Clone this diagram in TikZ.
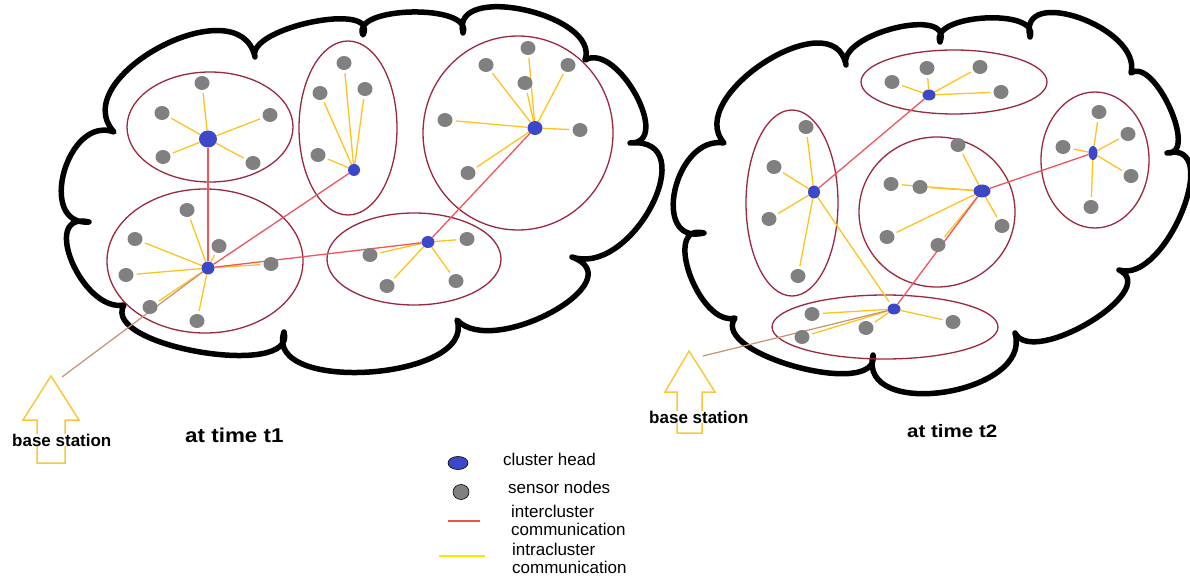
\documentclass[tikz,border=0pt]{standalone}
\usepackage{fontspec}
\setmainfont{Liberation Sans}
\usetikzlibrary{shapes.geometric,calc}
\pgfdeclarelayer{bg}
\pgfdeclarelayer{conn}
\pgfsetlayers{bg,conn,main}
\definecolor{ringc}{RGB}{155,40,60}
\definecolor{sensorc}{RGB}{128,128,128}
\definecolor{headc}{RGB}{60,72,200}
\definecolor{intrac}{RGB}{255,195,30}
\definecolor{interc}{RGB}{240,85,95}
\definecolor{basec}{RGB}{200,145,115}
\definecolor{arrowc}{RGB}{250,200,60}
\definecolor{legyel}{RGB}{255,230,0}
\definecolor{legred}{RGB}{240,80,80}
\begin{document}
\begin{tikzpicture}[x=1pt,y=-1pt,
  sensor/.style={shape=ellipse, fill=sensorc, inner sep=0pt, minimum width=15pt, minimum height=14pt},
  head/.style={shape=ellipse, fill=headc, inner sep=0pt, minimum width=13pt, minimum height=12pt},
  ring/.style={draw=ringc, line width=1.3pt},
  cloud/.style={draw=black, line width=5.5pt, line join=round},
  lobe/.style={to path={.. controls ($0.4533*(\tikztostart)+1.3333*(#1)-0.7867*(\tikztotarget)$) and ($0.4533*(\tikztotarget)+1.3333*(#1)-0.7867*(\tikztostart)$) .. (\tikztotarget)}},
  intra/.style={draw=intrac, line width=1.3pt, shorten >=3pt},
  inter/.style={draw=interc, line width=1.3pt},
  bsline/.style={draw=basec, line width=1.2pt},
  bsarrow/.style={draw=arrowc, line width=1.5pt, line join=miter},
  lab/.style={inner sep=0pt, font=\fontsize{17}{18}\selectfont},
  bslab/.style={inner sep=0pt, fill=white, font=\bfseries\fontsize{17}{18}\selectfont},
  timelab/.style={inner sep=0pt, font=\bfseries}
]
\useasboundingbox (0,0) rectangle (1190,577);

% ---------- nodes: cloud 1 ----------
\node[head, minimum width=18pt, minimum height=17pt] (A) at (208,139) {};
\node[sensor] (a1) at (202,83) {};
\node[sensor] (a2) at (162,113) {};
\node[sensor] (a3) at (270,115) {};
\node[sensor] (a4) at (163,157) {};
\node[sensor] (a5) at (253,163) {};

\node[head, minimum width=12pt, minimum height=12pt] (B) at (354,170) {};
\node[sensor] (b1) at (344,63) {};
\node[sensor] (b2) at (320,93) {};
\node[sensor] (b3) at (365,89) {};
\node[sensor] (b4) at (318,155) {};

\node[head, minimum width=15pt, minimum height=14pt] (C) at (535,128) {};
\node[sensor] (c1) at (528,48) {};
\node[sensor] (c2) at (486,65) {};
\node[sensor] (c3) at (568,65) {};
\node[sensor] (c4) at (525,83) {};
\node[sensor] (c5) at (445,120) {};
\node[sensor] (c6) at (580,130) {};
\node[sensor] (c7) at (468,173) {};

\node[head, minimum width=13pt, minimum height=13pt] (D) at (208,268) {};
\node[sensor] (d1) at (187,210) {};
\node[sensor] (d2) at (135,239) {};
\node[sensor] (d3) at (219,246) {};
\node[sensor] (d4) at (126,275) {};
\node[sensor] (d5) at (271,264) {};
\node[sensor] (d6) at (150,307) {};
\node[sensor] (d7) at (197,321) {};

\node[head] (E) at (428,242) {};
\node[sensor] (e1) at (370,255) {};
\node[sensor] (e2) at (467,239) {};
\node[sensor] (e3) at (387,286) {};
\node[sensor] (e4) at (456,281) {};

% ---------- nodes: cloud 2 ----------
\node[head, minimum height=11pt] (F) at (929,95) {};
\node[sensor] (f1) at (927,68) {};
\node[sensor] (f2) at (892,82) {};
\node[sensor] (f3) at (980,67) {};
\node[sensor] (f4) at (1001,92) {};

\node[head, minimum width=12pt, minimum height=13pt] (G) at (814,192) {};
\node[sensor] (g1) at (806,127) {};
\node[sensor] (g2) at (774,167) {};
\node[sensor] (g3) at (769,219) {};
\node[sensor] (g4) at (798,276) {};

\node[head, minimum width=17pt, minimum height=13pt] (H) at (982,191) {};
\node[sensor] (h1) at (958,145) {};
\node[sensor] (h2) at (891,184) {};
\node[sensor] (h3) at (920,187) {};
\node[sensor] (h4) at (887,237) {};
\node[sensor] (h5) at (1002,226) {};
\node[sensor] (h6) at (938,245) {};

\node[head, minimum width=9pt, minimum height=14pt] (I) at (1093,153) {};
\node[sensor] (i1) at (1099,112) {};
\node[sensor] (i2) at (1128,134) {};
\node[sensor] (i3) at (1063,147) {};
\node[sensor] (i4) at (1131,176) {};
\node[sensor] (i5) at (1091,207) {};

\node[head, minimum height=11pt] (J) at (894,309) {};
\node[sensor] (j1) at (812,314) {};
\node[sensor] (j2) at (802,337) {};
\node[sensor] (j3) at (866,328) {};
\node[sensor] (j4) at (953,322) {};

\coordinate (bs1) at (62,377);
\coordinate (bs2) at (703,356);

% ---------- background: clouds, cluster rings, arrows ----------
\begin{pgfonlayer}{bg}
\fill[white] (0,0) rectangle (1190,577);
\draw[cloud] (114,132) to[lobe={64,172}] (89,222) to[lobe={72,262}] (124,305)
  to[lobe={200,352}] (284,332) to[lobe={370,372}] (457,320)
  to[lobe={552,312}] (572,257) to[lobe={652,205}] (630,143)
  to[lobe={636,95}] (585,60) to[lobe={525,10}] (463,33)
  to[lobe={412,12}] (363,35) to[lobe={312,22}] (255,57)
  to[lobe={160,47}] (114,132) -- cycle;
\draw[cloud] (724,143) to[lobe={675,190}] (704,233) to[lobe={690,275}] (735,318)
  to[lobe={797,367}] (873,355) to[lobe={945,392}] (1015,333)
  to[lobe={1090,322}] (1119,270) to[lobe={1182,212}] (1167,153)
  to[lobe={1170,108}] (1131,73) to[lobe={1080,18}] (1030,37)
  to[lobe={985,18}] (940,42) to[lobe={895,28}] (846,65)
  to[lobe={765,62}] (724,143) -- cycle;
\draw[ring] (210,127) ellipse [x radius=83pt, y radius=55pt];
\draw[ring] (348,128) ellipse [x radius=49pt, y radius=87pt];
\draw[ring] (518,133) ellipse [x radius=95pt, y radius=97pt];
\draw[ring] (205,261) ellipse [x radius=98pt, y radius=72pt];
\draw[ring] (414,259) ellipse [x radius=87pt, y radius=46pt];
\draw[ring] (954,82) ellipse [x radius=93pt, y radius=32pt];
\draw[ring] (792,203) ellipse [x radius=46pt, y radius=93pt];
\draw[ring] (937,212) ellipse [x radius=78pt, y radius=75pt];
\draw[ring] (1095,160) ellipse [x radius=54pt, y radius=68pt];
\draw[ring] (885,327) ellipse [x radius=113pt, y radius=32pt];
\draw[bsarrow] (51,376) -- (79,420) -- (65,420) -- (65,463) -- (37,463) -- (37,420) -- (23,420) -- cycle;
\draw[bsarrow] (689,351) -- (715,392) -- (702,392) -- (702,433) -- (677,433) -- (677,392) -- (665,392) -- cycle;
\end{pgfonlayer}

% ---------- connectors ----------
\begin{pgfonlayer}{conn}
\foreach \h/\s in {A/a1,A/a2,A/a3,A/a4,A/a5,B/b1,B/b2,B/b3,B/b4,
  C/c1,C/c2,C/c3,C/c4,C/c5,C/c6,C/c7,D/d1,D/d2,D/d3,D/d4,D/d5,D/d6,D/d7,
  E/e1,E/e2,E/e3,E/e4,F/f1,F/f2,F/f3,F/f4,G/g1,G/g2,G/g3,G/g4,
  H/h1,H/h2,H/h3,H/h4,H/h5,H/h6,I/i1,I/i2,I/i3,I/i4,I/i5,
  J/j1,J/j2,J/j3,J/j4,G/J}
  \draw[intra] (\h) -- (\s);
\foreach \p/\q in {A/D,B/D,C/E,E/D,F/G,H/I,H/J}
  \draw[inter] (\p) -- (\q);
\draw[bsline] (D) -- (bs1);
\draw[bsline] (J) -- (bs2);
\end{pgfonlayer}

% ---------- texts ----------
\node[bslab, anchor=base west] (bst1) at (12,446) {base station};
\node[bslab, anchor=base west] (bst2) at (649,423) {base station};
\node[timelab, anchor=base west] (t1) at (185,442) {\fontsize{20}{22}\selectfont\scalebox{1.12}[1]{at time t1}};
\node[timelab, anchor=base west] (t2) at (907,437) {\fontsize{18}{20}\selectfont\scalebox{1.14}[1]{at time t2}};

% ---------- legend ----------
\node[shape=ellipse, fill=headc, draw=black, line width=0.6pt, inner sep=0pt, minimum width=20pt, minimum height=13pt] (lhead) at (458,463) {};
\node[shape=ellipse, fill=sensorc, draw=black, line width=0.6pt, inner sep=0pt, minimum width=16pt, minimum height=15pt] (lsens) at (461,492) {};
\node[lab, anchor=base west] (tch) at (503,465) {cluster head};
\node[lab, anchor=base west] (tsn) at (508,493) {sensor nodes};
\node[lab, anchor=base west] (tin1) at (511,517) {intercluster};
\node[lab, anchor=base west] (tin2) at (511,535) {communication};
\node[lab, anchor=base west] (tia1) at (512,555) {intracluster};
\node[lab, anchor=base west] (tia2) at (512,573) {communication};
\coordinate (lr1) at (448,521);
\coordinate (lr2) at (480,521);
\coordinate (ly1) at (439,556);
\coordinate (ly2) at (485,556);
\draw[draw=legred, line width=1.3pt] (lr1) -- (lr2);
\draw[draw=legyel, line width=1.3pt] (ly1) -- (ly2);
\end{tikzpicture}
\end{document}
